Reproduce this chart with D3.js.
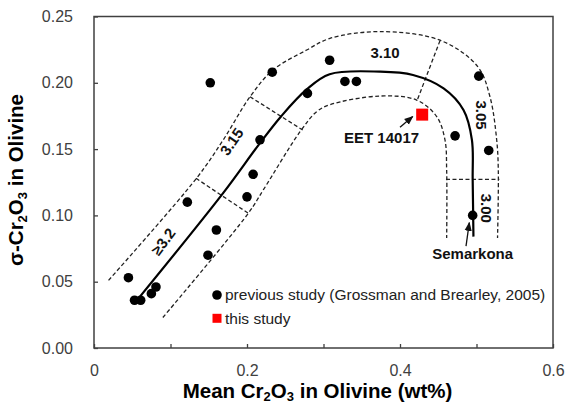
<!DOCTYPE html>
<html>
<head>
<meta charset="utf-8">
<script src="https://cdn.jsdelivr.net/npm/d3@7"></script>
<style>
  body { margin: 0; background: #fff; }
  text { font-family: "Liberation Sans", Arial, sans-serif; }
</style>
</head>
<body>
<div class="chart"></div>
<script>
// previous study (Grossman and Brearley, 2005)
var prevX = [0.045, 0.053, 0.061, 0.075, 0.081, 0.122, 0.160, 0.149, 0.200, 0.152, 0.233,
             0.308, 0.279, 0.217, 0.208, 0.328, 0.343, 0.503, 0.472, 0.516, 0.495];
var prevY = [0.053, 0.036, 0.036, 0.041, 0.046, 0.110, 0.089, 0.070, 0.114, 0.200, 0.208,
             0.217, 0.192, 0.157, 0.131, 0.201, 0.201, 0.205, 0.160, 0.149, 0.100];
// this study
var thisX = [0.429];
var thisY = [0.176];

var xTicks = [0, 0.2, 0.4, 0.6];
var xMinor = [0.1, 0.3, 0.5];
var yTicks = [0, 0.05, 0.10, 0.15, 0.20, 0.25];

// trend line and petrologic type band (hand drawn in the original)
var trend = [[0.059, 0.038], [0.169, 0.117], [0.215, 0.153], [0.245, 0.175],
             [0.278, 0.195], [0.308, 0.2065], [0.374, 0.2084], [0.417, 0.2059], [0.457, 0.1958],
             [0.483, 0.1795], [0.494, 0.157], [0.495, 0.127], [0.496, 0.084]];
var outer = [[0.019, 0.051], [0.134, 0.128], [0.169, 0.157], [0.204, 0.1895], [0.234, 0.2097],
             [0.278, 0.2247], [0.3085, 0.2335], [0.374, 0.2386], [0.4536, 0.2318], [0.5016, 0.2122],
             [0.5176, 0.1895], [0.5264, 0.1569], [0.5285, 0.134], [0.5275, 0.083]];
var inner = [[0.090, 0.023], [0.2017, 0.1016], [0.2213, 0.1192], [0.2693, 0.1631], [0.291, 0.1782],
             [0.3085, 0.1835], [0.374, 0.190], [0.4218, 0.187], [0.448, 0.1745], [0.4588, 0.1569],
             [0.461, 0.134], [0.461, 0.083]];
var dividers = [
  [[0.1333, 0.128], [0.2017, 0.1016]],
  [[0.2039, 0.1895], [0.2728, 0.1644]],
  [[0.4523, 0.2318], [0.4226, 0.187]],
  [[0.4601, 0.1272], [0.5298, 0.1272]]
];
var typeLabels = [
  {text: "\u22653.2", x: 0.0906, y: 0.0802, rot: -53},
  {text: "3.15", x: 0.180, y: 0.1556, rot: -55},
  {text: "3.10", x: 0.3804, y: 0.2227, rot: 0},
  {text: "3.05", x: 0.5068, y: 0.1757, rot: 90},
  {text: "3.00", x: 0.5124, y: 0.1054, rot: 90}
];

var margin = {top: 16.5, bottom: 56, left: 94, right: 15};
var fullWidth = 568, fullHeight = 404;
var width = fullWidth - margin.left - margin.right;
var height = fullHeight - margin.top - margin.bottom;

var root = d3.select(".chart").append("svg")
    .attr("width", fullWidth)
    .attr("height", fullHeight);

var svg = root.append("g")
    .attr("transform", `translate(${margin.left},${margin.top})`);

var x = d3.scaleLinear().domain([0, 0.6]).range([0, width]);
var y = d3.scaleLinear().domain([0, 0.25]).range([height, 0]);

// axes
var xAxis = d3.axisBottom(x).tickValues(xTicks.concat(xMinor)).tickSizeInner(-4).tickSizeOuter(0)
    .tickFormat(d => xTicks.includes(d) ? d3.format("")(+d.toFixed(1)) : "");
var yAxis = d3.axisLeft(y).tickValues(yTicks).tickSizeInner(-4).tickSizeOuter(0)
    .tickFormat(d3.format(".2f"));

var gx = svg.append("g").attr("transform", `translate(0,${height})`).call(xAxis);
var gy = svg.append("g").call(yAxis);
[gx, gy].forEach(g => {
  g.select(".domain").remove();
  g.selectAll(".tick line").attr("stroke", "#404040").attr("stroke-width", 1.3);
  g.selectAll(".tick text").attr("fill", "#404040").style("font-size", "16px");
});
gx.selectAll(".tick text").attr("y", 16.5);
gy.selectAll(".tick text").attr("x", -21);

svg.append("rect")
    .attr("width", width).attr("height", height)
    .attr("fill", "none").attr("stroke", "#404040").attr("stroke-width", 1.5);

// curves
var line = d3.line().x(d => x(d[0])).y(d => y(d[1])).curve(d3.curveCatmullRom.alpha(0.5));

svg.append("path").datum(outer).attr("d", line)
    .attr("fill", "none").attr("stroke", "#222").attr("stroke-width", 1.3).attr("stroke-dasharray", "4,2.5");
svg.append("path").datum(inner).attr("d", line)
    .attr("fill", "none").attr("stroke", "#222").attr("stroke-width", 1.3).attr("stroke-dasharray", "4,2.5");
svg.selectAll(".divider").data(dividers).enter().append("path")
    .attr("class", "divider")
    .attr("d", d3.line().x(d => x(d[0])).y(d => y(d[1])))
    .attr("fill", "none").attr("stroke", "#222").attr("stroke-width", 1.3).attr("stroke-dasharray", "4,2.5");
svg.append("path").datum(trend).attr("d", line)
    .attr("fill", "none").attr("stroke", "#000").attr("stroke-width", 2.2);

svg.selectAll(".tlabel").data(typeLabels).enter().append("text")
    .attr("class", "tlabel")
    .attr("transform", d => `translate(${x(d.x)},${y(d.y)}) rotate(${d.rot})`)
    .attr("text-anchor", "middle").attr("dy", "0.35em")
    .style("font-size", "15px").style("font-weight", "bold").attr("fill", "#111")
    .text(d => d.text);

// points
svg.selectAll(".prev").data(prevX).enter().append("circle")
    .attr("class", "prev")
    .attr("cx", d => x(d)).attr("cy", (d, i) => y(prevY[i]))
    .attr("r", 4.8).attr("fill", "#000");

svg.selectAll(".this").data(thisX).enter().append("rect")
    .attr("class", "this")
    .attr("x", d => x(d) - 6).attr("y", (d, i) => y(thisY[i]) - 6)
    .attr("width", 12).attr("height", 12).attr("fill", "#ff0000");

// annotations
root.append("defs").append("marker")
    .attr("id", "arrow").attr("viewBox", "0 0 10 10").attr("refX", 9).attr("refY", 5)
    .attr("markerWidth", 7).attr("markerHeight", 7).attr("orient", "auto")
    .append("path").attr("d", "M0,1L10,5L0,9z").attr("fill", "#111");

var notes = [
  {text: "EET 14017", tx: 0.3759, ty: 0.1589, from: [0.400, 0.1664], to: [0.4166, 0.1745]},
  {text: "Semarkona", tx: 0.495, ty: 0.0714, from: [0.4863, 0.0768], to: [0.4906, 0.0945]}
];
notes.forEach(n => {
  svg.append("line")
      .attr("x1", x(n.from[0])).attr("y1", y(n.from[1]))
      .attr("x2", x(n.to[0])).attr("y2", y(n.to[1]))
      .attr("stroke", "#111").attr("stroke-width", 1.3).attr("marker-end", "url(#arrow)");
  svg.append("text")
      .attr("x", x(n.tx)).attr("y", y(n.ty)).attr("dy", "0.35em")
      .attr("text-anchor", "middle")
      .style("font-size", "15px").style("font-weight", "bold").attr("fill", "#111")
      .text(n.text);
});

// legend
var legend = root.append("g").attr("transform", "translate(217,295)");
legend.append("circle").attr("r", 4.8).attr("fill", "#000");
legend.append("text").attr("x", 8).attr("dy", "0.35em").style("font-size", "15.5px").attr("fill", "#222")
    .text("previous study (Grossman and Brearley, 2005)");
legend.append("rect").attr("x", -4.5).attr("y", 23.3 - 4.5).attr("width", 9).attr("height", 9).attr("fill", "#ff0000");
legend.append("text").attr("x", 8).attr("y", 23.3).attr("dy", "0.35em").style("font-size", "15.5px").attr("fill", "#222")
    .text("this study");

// axis titles
var xt = root.append("text")
    .attr("x", margin.left + width / 2 - 6).attr("y", 398)
    .attr("text-anchor", "middle")
    .style("font-size", "20.5px").style("font-weight", "bold");
xt.append("tspan").text("Mean Cr");
xt.append("tspan").attr("dy", 3).style("font-size", "13px").text("2");
xt.append("tspan").attr("dy", -3).text("O");
xt.append("tspan").attr("dy", 3).style("font-size", "13px").text("3");
xt.append("tspan").attr("dy", -3).text(" in Olivine (wt%)");

var yt = root.append("text")
    .attr("transform", "translate(23,180) rotate(-90)")
    .attr("text-anchor", "middle")
    .style("font-size", "20.5px").style("font-weight", "bold");
yt.append("tspan").text("\u03c3-Cr");
yt.append("tspan").attr("dy", 4).style("font-size", "13px").text("2");
yt.append("tspan").attr("dy", -4).text("O");
yt.append("tspan").attr("dy", 4).style("font-size", "13px").text("3");
yt.append("tspan").attr("dy", -4).text(" in Olivine");
</script>
</body>
</html>
